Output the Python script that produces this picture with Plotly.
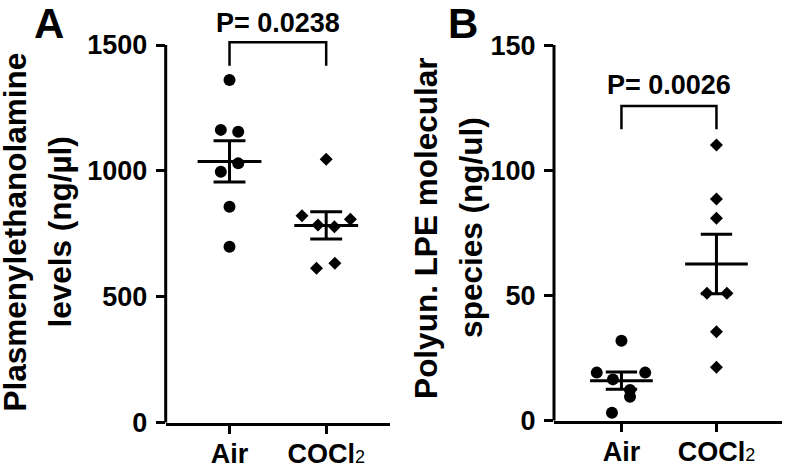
import numpy as np
import plotly.graph_objects as go

groups = ["Air", "COCl2"]
group_pos = [1, 2]
tick_text = ["Air", "COCl<span style='font-size:18px;font-weight:normal'>2</span>"]

# panel A: plasmenylethanolamine levels (ng/ul)
plasm_air = [1361, 1163, 1156, 1030, 997, 858, 699]
plasm_cocl2 = [1046, 822, 808, 785, 778, 633, 613]
# panel B: polyunsaturated LPE species (ng/ul)
lpe_air = [31.9, 19.2, 19.2, 16.5, 12.3, 9.6, 3.2]
lpe_cocl2 = [110.1, 88.5, 80.8, 50.9, 50.9, 35.5, 21.3]

p_text = ["P= 0.0238", "P= 0.0026"]
a_ticks = [0, 500, 1000, 1500]
b_ticks = [0, 50, 100, 150]
title_a = ["Plasmenylethanolamine", "levels (ng/µl)"]
title_b = ["Polyun. LPE molecular", "species (ng/ul)"]

# horizontal scatter offsets (category units), like the prism plot
jit_a_air = [0, -0.09, 0.09, 0.09, -0.09, 0, 0]
jit_a_cocl2 = [0, -0.25, 0.25, -0.085, 0.085, 0.09, -0.1]
jit_b_air = [0, -0.26, 0.25, -0.09, 0.09, 0.09, -0.1]
jit_b_cocl2 = [0, 0, 0, -0.1, 0.11, 0, 0]

W, H = 789, 464
FONT = "Liberation Sans, Arial, sans-serif"
LW = 3


def mean_sem_trace(series, xa, ya, half=0.33, cap=0.165):
    xs, ys = [], []
    for g, vals in zip(group_pos, series):
        v = np.array(vals, dtype=float)
        m = v.mean()
        s = v.std(ddof=1) / np.sqrt(len(v))
        xs += [g - half, g + half, None, g, g, None,
               g - cap, g + cap, None, g - cap, g + cap, None]
        ys += [m, m, None, m - s, m + s, None,
               m + s, m + s, None, m - s, m - s, None]
    return go.Scatter(x=xs, y=ys, mode="lines", xaxis=xa, yaxis=ya,
                      line=dict(color="black", width=LW), hoverinfo="skip")


def dots(vals, g, jit, symbol, size, xa, ya):
    return go.Scatter(x=[g + j for j in jit], y=vals, mode="markers",
                      xaxis=xa, yaxis=ya, cliponaxis=False,
                      marker=dict(symbol=symbol, size=size, color="black",
                                  line=dict(width=0)))


def bold(size):
    return dict(size=size, family=FONT, color="black", weight="bold")


fig = go.Figure()
fig.add_trace(mean_sem_trace([plasm_air, plasm_cocl2], "x", "y"))
fig.add_trace(dots(plasm_air, 1, jit_a_air, "circle", 12, "x", "y"))
fig.add_trace(dots(plasm_cocl2, 2, jit_a_cocl2, "diamond", 10, "x", "y"))
fig.add_trace(mean_sem_trace([lpe_air, lpe_cocl2], "x2", "y2"))
fig.add_trace(dots(lpe_air, 1, jit_b_air, "circle", 12, "x2", "y2"))
fig.add_trace(dots(lpe_cocl2, 2, jit_b_cocl2, "diamond", 10, "x2", "y2"))

xax = dict(showline=True, linewidth=LW, linecolor="black", ticks="outside",
           ticklen=8, tickwidth=LW, tickcolor="black", tickvals=group_pos,
           ticktext=tick_text, showgrid=False, zeroline=False,
           automargin=False, ticklabelstandoff=-3, tickfont=bold(27))
yax = dict(showline=False, ticks="outside", ticklen=9, tickwidth=LW,
           tickcolor="black", showgrid=False, zeroline=False,
           automargin=False, ticklabelstandoff=3, tickfont=bold(27))

fig.update_layout(
    width=W, height=H,
    margin=dict(l=0, r=0, t=0, b=0),
    paper_bgcolor="white", plot_bgcolor="white",
    showlegend=False,
    font=dict(family=FONT, color="black"),
    xaxis=dict(xax, domain=[165.7 / W, 390 / W], range=[0.34, 2.66], anchor="y"),
    yaxis=dict(yax, domain=[1 - 422.7 / H, 1 - 5 / H], range=[0, 1659],
               tickvals=a_ticks, anchor="x"),
    xaxis2=dict(xax, domain=[554 / W, 782 / W], range=[0.29, 2.69], anchor="y2"),
    yaxis2=dict(yax, domain=[1 - 420.7 / H, 1 - 5 / H], range=[0, 166],
                tickvals=b_ticks, anchor="x2"),
)

# y axis lines stop at the top tick, like the original
for xr, yr, top in [("x domain", "y", a_ticks[-1]), ("x2 domain", "y2", b_ticks[-1])]:
    fig.add_shape(type="line", xref=xr, yref=yr, x0=0, x1=0, y0=0, y1=top,
                  line=dict(color="black", width=LW))

# significance brackets
for xr, yr, lo, hi, ty, txt in [("x", "y", 1418, 1511, 1589, p_text[0]),
                                ("x2", "y2", 116.4, 125.7, 134, p_text[1])]:
    fig.add_shape(type="path", xref=xr, yref=yr,
                  path=f"M 1,{lo} L 1,{hi} L 2,{hi} L 2,{lo}",
                  line=dict(color="black", width=2.5))
    fig.add_annotation(xref=xr, yref=yr, x=1.5, y=ty, text=txt, showarrow=False,
                       font=bold(27))

# y axis titles, one annotation per line
for yr, yv, xs, lines in [("y", 755, (15, 60), title_a),
                          ("y2", 77, (426, 471), title_b)]:
    for xpx, txt in zip(xs, lines):
        fig.add_annotation(xref="paper", yref=yr, x=xpx / W, y=yv, text=txt,
                           textangle=-90, showarrow=False,
                           xanchor="center", yanchor="middle", font=bold(31.5))

# panel letters
for xp, lab in [(49 / W, "A"), (463 / W, "B")]:
    fig.add_annotation(xref="paper", yref="paper", x=xp, y=1 - 24 / H, text=lab,
                       showarrow=False, xanchor="center", yanchor="middle",
                       font=bold(42))

# page body margin would push the 789x464 figure off the window
fig.write_html("out.html", config={"displayModeBar": False},
               post_script="document.body.style.margin='0';")
